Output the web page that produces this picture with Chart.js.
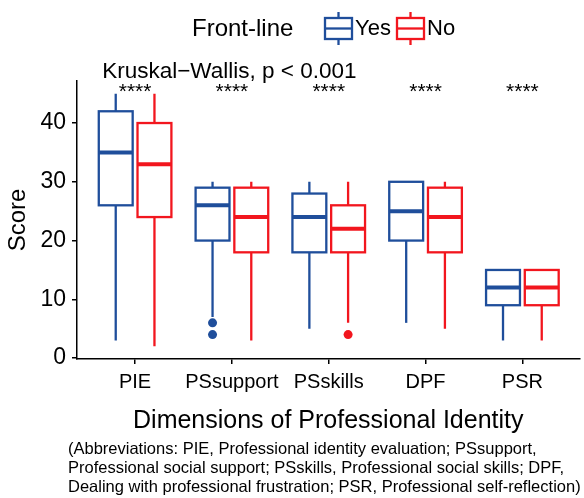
<!DOCTYPE html>
<html>
<head>
<meta charset="utf-8">
<script src="https://cdn.jsdelivr.net/npm/chart.js@4/dist/chart.umd.min.js"></script>
<style>
  html, body { margin:0; padding:0; background:#fff; }
  #wrap { position:relative; width:584px; height:498px; }
</style>
</head>
<body>
<div id="wrap"><canvas id="c"></canvas></div>
<script>
// ── DATA ───────────────────────────────────────────────
const categories = ['PIE', 'PSsupport', 'PSskills', 'DPF', 'PSR'];
const yTicks     = [0, 10, 20, 30, 40];
const groups     = ['Yes', 'No'];

// Front-line = Yes
const yesLow  = [3, 7, 5, 6, 3];
const yesQ1   = [26, 20, 18, 20, 9];
const yesMed  = [35, 26, 24, 25, 12];
const yesQ3   = [42, 29, 28, 30, 15];
const yesHigh = [45, 30, 30, 30, 15];
const yesOutliers = [[], [6, 4], [], [], []];

// Front-line = No
const noLow  = [2, 3, 6, 5, 3];
const noQ1   = [24, 18, 18, 18, 9];
const noMed  = [33, 24, 22, 24, 12];
const noQ3   = [40, 29, 26, 29, 15];
const noHigh = [45, 30, 30, 30, 15];
const noOutliers = [[], [], [4], [], []];

const sigLabels = ['****', '****', '****', '****', '****'];
const testLabel = 'Kruskal\u2212Wallis, p < 0.001';
const footnote = [
  '(Abbreviations: PIE, Professional identity evaluation; PSsupport,',
  'Professional social support; PSskills, Professional social skills; DPF,',
  'Dealing with professional frustration; PSR, Professional self-reflection)'
];

// ── STYLE ──────────────────────────────────────────────
const BLUE  = '#1F4E9B';
const RED   = '#F2161E';
const FONT  = '"Liberation Sans", Arial, sans-serif';
const DODGE = 0.2;    // x offset of each group from category centre
const BOX_W = 0.35;   // box width in category units

const series = [
  { color: BLUE, off: -DODGE, low: yesLow, q1: yesQ1, med: yesMed, q3: yesQ3, high: yesHigh },
  { color: RED,  off:  DODGE, low: noLow,  q1: noQ1,  med: noMed,  q3: noQ3,  high: noHigh }
];

const outlierPts = (arr, off) =>
  arr.flatMap((vals, i) => vals.map(v => ({ x: i + 1 + off, y: v })));

// ── BOX PLOT + ANNOTATIONS ─────────────────────────────
const boxPlugin = {
  id: 'boxes',
  beforeDatasetsDraw(chart) {
    const { ctx, scales: { x, y } } = chart;
    ctx.save();
    series.forEach(s => {
      categories.forEach((c, i) => {
        const cx = x.getPixelForValue(i + 1 + s.off);
        const l  = x.getPixelForValue(i + 1 + s.off - BOX_W / 2);
        const r  = x.getPixelForValue(i + 1 + s.off + BOX_W / 2);
        const pLow = y.getPixelForValue(s.low[i]);
        const pQ1  = y.getPixelForValue(s.q1[i]);
        const pMed = y.getPixelForValue(s.med[i]);
        const pQ3  = y.getPixelForValue(s.q3[i]);
        const pHi  = y.getPixelForValue(s.high[i]);
        ctx.strokeStyle = s.color;
        ctx.lineWidth = 2.3;
        ctx.beginPath();
        ctx.moveTo(cx, pHi); ctx.lineTo(cx, pQ3);
        ctx.moveTo(cx, pQ1); ctx.lineTo(cx, pLow);
        ctx.stroke();
        ctx.fillStyle = '#fff';
        ctx.fillRect(l, pQ3, r - l, pQ1 - pQ3);
        ctx.strokeRect(l, pQ3, r - l, pQ1 - pQ3);
        ctx.lineWidth = 4;
        ctx.beginPath();
        ctx.moveTo(l, pMed); ctx.lineTo(r, pMed);
        ctx.stroke();
      });
    });
    ctx.restore();
  },
  afterDraw(chart) {
    const { ctx, scales: { x, y } } = chart;
    ctx.save();
    ctx.fillStyle = '#000';

    // significance stars
    ctx.font = `21px ${FONT}`;
    ctx.textAlign = 'center';
    ctx.textBaseline = 'middle';
    sigLabels.forEach((t, i) => ctx.fillText(t, x.getPixelForValue(i + 1), y.getPixelForValue(45.2)));

    // global test label
    ctx.font = `22.5px ${FONT}`;
    ctx.textAlign = 'left';
    ctx.fillText(testLabel, x.getPixelForValue(0.66), y.getPixelForValue(48.8));

    // legend
    ctx.font = `24px ${FONT}`;
    ctx.fillText('Front-line', 192, 29);
    ctx.font = `22px ${FONT}`;
    const keys = [{ x: 325, color: BLUE, label: groups[0] }, { x: 397, color: RED, label: groups[1] }];
    keys.forEach(k => {
      ctx.strokeStyle = k.color;
      ctx.lineWidth = 2.3;
      ctx.beginPath();
      ctx.moveTo(k.x + 13.5, 12); ctx.lineTo(k.x + 13.5, 45);
      ctx.stroke();
      ctx.fillStyle = '#fff';
      ctx.fillRect(k.x, 18, 27, 21);
      ctx.strokeRect(k.x, 18, 27, 21);
      ctx.beginPath();
      ctx.moveTo(k.x, 28.5); ctx.lineTo(k.x + 27, 28.5);
      ctx.stroke();
      ctx.fillStyle = '#000';
      ctx.fillText(k.label, k.x + 30, 29);
    });

    // footnote
    ctx.font = `16.5px ${FONT}`;
    footnote.forEach((line, i) => ctx.fillText(line, 68, 449 + i * 19));
    ctx.restore();
  }
};

// ── CHART ──────────────────────────────────────────────
new Chart(document.getElementById('c'), {
  type: 'scatter',
  data: {
    datasets: [
      { label: groups[0], data: outlierPts(yesOutliers, -DODGE), backgroundColor: BLUE,
        pointRadius: 4.5, pointBorderWidth: 0, pointHoverRadius: 4.5 },
      { label: groups[1], data: outlierPts(noOutliers, DODGE), backgroundColor: RED,
        pointRadius: 4.5, pointBorderWidth: 0, pointHoverRadius: 4.5 }
    ]
  },
  options: {
    responsive: true,
    maintainAspectRatio: false,
    animation: false,
    layout: { padding: { top: 81, left: 0, right: 0, bottom: 58 } },
    plugins: { legend: { display: false }, tooltip: { enabled: false } },
    scales: {
      x: {
        type: 'linear',
        min: 0.4,
        max: 5.59,
        afterFit: s => { s.height = 81; },
        afterBuildTicks: s => { s.ticks = categories.map((c, i) => ({ value: i + 1 })); },
        grid: { display: true, drawOnChartArea: false, drawTicks: true, tickLength: 5, color: '#000', lineWidth: 1.5 },
        border: { display: true, color: '#000', width: 1.5 },
        ticks: {
          color: '#000', padding: 6, maxRotation: 0, autoSkip: false,
          font: { family: FONT, size: 20 },
          callback: v => categories[v - 1]
        },
        title: {
          display: true, text: 'Dimensions of Professional Identity', color: '#000',
          font: { family: FONT, size: 25, lineHeight: 1.2 }, padding: { top: 0, bottom: 3.5 }
        }
      },
      y: {
        min: -0.15,
        max: 47.15,
        afterFit: s => { s.width = 77; },
        afterBuildTicks: s => { s.ticks = yTicks.map(v => ({ value: v })); },
        grid: { display: true, drawOnChartArea: false, drawTicks: true, tickLength: 5, color: '#000', lineWidth: 1.5 },
        border: { display: true, color: '#000', width: 1.5 },
        ticks: { color: '#000', padding: 6, font: { family: FONT, size: 23 } },
        title: {
          display: true, text: 'Score', color: '#000',
          font: { family: FONT, size: 24, lineHeight: 1.2 }, padding: { top: 3.6, bottom: 0 }
        }
      }
    }
  },
  plugins: [boxPlugin]
});
</script>
</body>
</html>
